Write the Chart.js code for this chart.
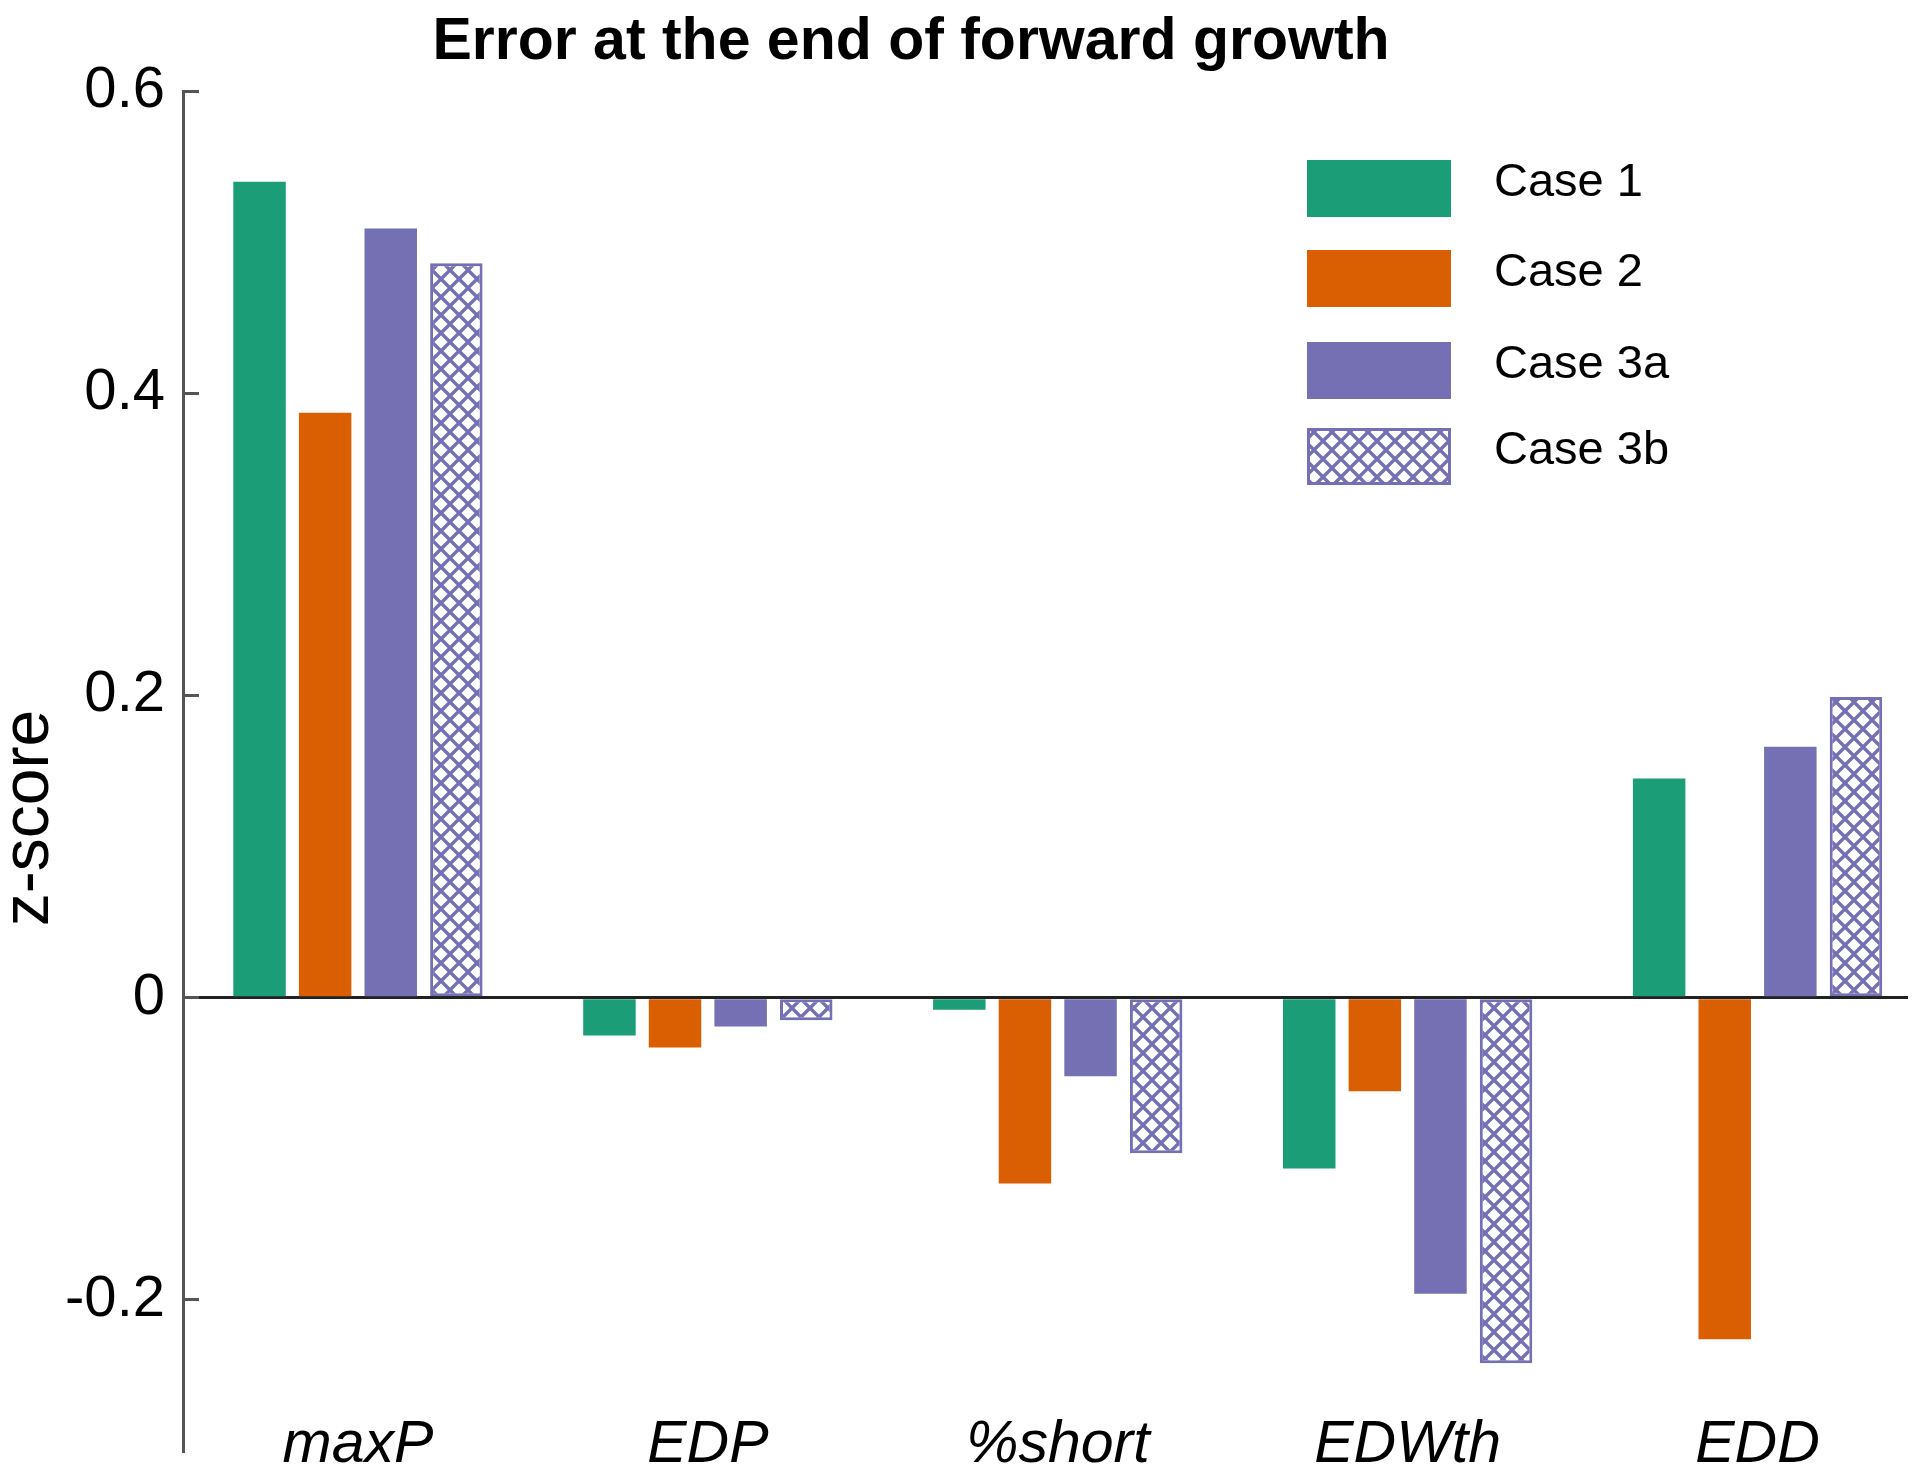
<!DOCTYPE html>
<html>
<head>
<meta charset="utf-8">
<title>Error at the end of forward growth</title>
<script src="https://cdn.jsdelivr.net/npm/chart.js@4.4.1/dist/chart.umd.min.js"></script>
<style>
  html, body { margin: 0; padding: 0; background: #fff; overflow: hidden; }
  #wrap { width: 1920px; height: 1480px; }
</style>
</head>
<body>
<div id="wrap"><canvas id="chart" width="1920" height="1480"></canvas></div>
<script>
// data
const categories = ['maxP', 'EDP', '%short', 'EDWth', 'EDD'];
const seriesNames = ['Case 1', 'Case 2', 'Case 3a', 'Case 3b'];
const case1 = [0.540, -0.025, -0.008, -0.113, 0.145];
const case2 = [0.387, -0.033, -0.123, -0.062, -0.226];
const case3a = [0.509, -0.019, -0.052, -0.196, 0.166];
const case3b = [0.486, -0.015, -0.103, -0.242, 0.199];
const yTicks = [-0.2, 0, 0.2, 0.4, 0.6];
const yTickLabels = ['-0.2', '0', '0.2', '0.4', '0.6'];
const chartTitle = 'Error at the end of forward growth';
const yTitle = 'z-score';

const GREEN = '#1b9e77', ORANGE = '#d95f02', PURPLE = '#7570b3';
const FONT = '"Liberation Sans", Arial, Helvetica, sans-serif';
Chart.defaults.font.family = FONT;
Chart.defaults.color = '#000';

function crossHatch(color, size, lw) {
  const c = document.createElement('canvas');
  c.width = size; c.height = size;
  const g = c.getContext('2d');
  g.fillStyle = '#fff'; g.fillRect(0, 0, size, size);
  g.strokeStyle = color; g.lineWidth = lw;
  g.beginPath();
  for (const k of [-1, 0, 1]) {
    g.moveTo(k * size, 0); g.lineTo(k * size + size, size);
    g.moveTo(k * size, size); g.lineTo(k * size + size, 0);
  }
  g.stroke();
  return g.createPattern(c, 'repeat');
}
const hatch = crossHatch(PURPLE, 18, 3.4);

const toPoints = (arr) => arr.map((v, i) => ({ x: i, y: v }));

// title + rotated y label
const textPlugin = {
  id: 'texts',
  afterDraw(chart) {
    const ctx = chart.ctx;
    ctx.save();
    ctx.fillStyle = '#000';
    ctx.font = 'bold 59px ' + FONT;
    ctx.textAlign = 'center'; ctx.textBaseline = 'alphabetic';
    ctx.fillText(chartTitle, 911, 59);
    ctx.translate(48, 818); ctx.rotate(-Math.PI / 2);
    ctx.font = '66px ' + FONT;
    ctx.fillText(yTitle, 0, 0);
    ctx.restore();
  }
};

// legend drawn inside the plot area, top right
const boxLegend = {
  id: 'boxLegend',
  afterDraw(chart, args, o) {
    const ctx = chart.ctx;
    ctx.save();
    chart.data.datasets.forEach((ds, i) => {
      const top = o.rows[i];
      if (ds.borderWidth) {
        ctx.fillStyle = ds.borderColor;
        ctx.fillRect(o.left, top, o.boxW, o.boxH);
        const b = ds.borderWidth;
        ctx.fillStyle = ds.backgroundColor;
        ctx.fillRect(o.left + b, top + b, o.boxW - 2 * b, o.boxH - 2 * b);
      } else {
        ctx.fillStyle = ds.backgroundColor;
        ctx.fillRect(o.left, top, o.boxW, o.boxH);
      }
      ctx.fillStyle = '#000';
      ctx.font = o.fontSize + 'px ' + FONT;
      ctx.textAlign = 'left'; ctx.textBaseline = 'alphabetic';
      ctx.fillText(ds.label, o.textX, top + o.boxH / 2 + 7);
    });
    ctx.restore();
  }
};

new Chart(document.getElementById('chart'), {
  type: 'bar',
  data: {
    datasets: [
      { label: seriesNames[0], data: toPoints(case1), backgroundColor: GREEN, borderWidth: 0 },
      { label: seriesNames[1], data: toPoints(case2), backgroundColor: ORANGE, borderWidth: 0 },
      { label: seriesNames[2], data: toPoints(case3a), backgroundColor: PURPLE, borderWidth: 0 },
      { label: seriesNames[3], data: toPoints(case3b), backgroundColor: hatch, borderColor: PURPLE, borderWidth: 3, borderSkipped: false },
    ]
  },
  options: {
    responsive: false,
    animation: false,
    devicePixelRatio: 1,
    layout: { padding: { top: 91, right: 12, bottom: 0, left: 0 } },
    datasets: { bar: { categoryPercentage: 0.75, barPercentage: 0.8 } },
    plugins: {
      legend: { display: false },
      tooltip: { enabled: false },
      boxLegend: { left: 1307, rows: [160, 250, 342, 428], boxW: 144, boxH: 57, textX: 1494, fontSize: 47 },
    },
    scales: {
      x: {
        type: 'linear', min: -0.5, max: 4.43, offset: false,
        afterBuildTicks: (s) => { s.ticks = categories.map((c, i) => ({ value: i })); },
        afterFit: (s) => { s.height = 29; s.paddingLeft = 0; s.paddingRight = 0; },
        grid: { display: false, drawTicks: false },
        border: { display: false },
        ticks: {
          callback: (v) => categories[Math.round(v)],
          font: { size: 59, style: 'italic' }, color: '#000',
          mirror: true, padding: -30, maxRotation: 0, autoSkip: false,
        },
      },
      y: {
        min: -0.3, max: 0.6,
        afterBuildTicks: (s) => { s.ticks = yTicks.map((v) => ({ value: v })); },
        afterFit: (s) => { s.width = 183; s.paddingTop = 0; s.paddingBottom = 0; },
        border: { display: true, color: '#555', width: 3 },
        grid: {
          drawOnChartArea: true,
          color: (c) => (c.tick && c.tick.value === 0 ? '#222' : 'rgba(0,0,0,0)'),
          lineWidth: 3, tickLength: -16, tickColor: '#555', tickWidth: 3,
        },
        ticks: {
          callback: (v) => { const i = yTicks.indexOf(v); return i >= 0 ? yTickLabels[i] : ''; },
          font: { size: 58 }, color: '#000', padding: 34,
        },
      },
    },
  },
  plugins: [textPlugin, boxLegend],
});
</script>
</body>
</html>
